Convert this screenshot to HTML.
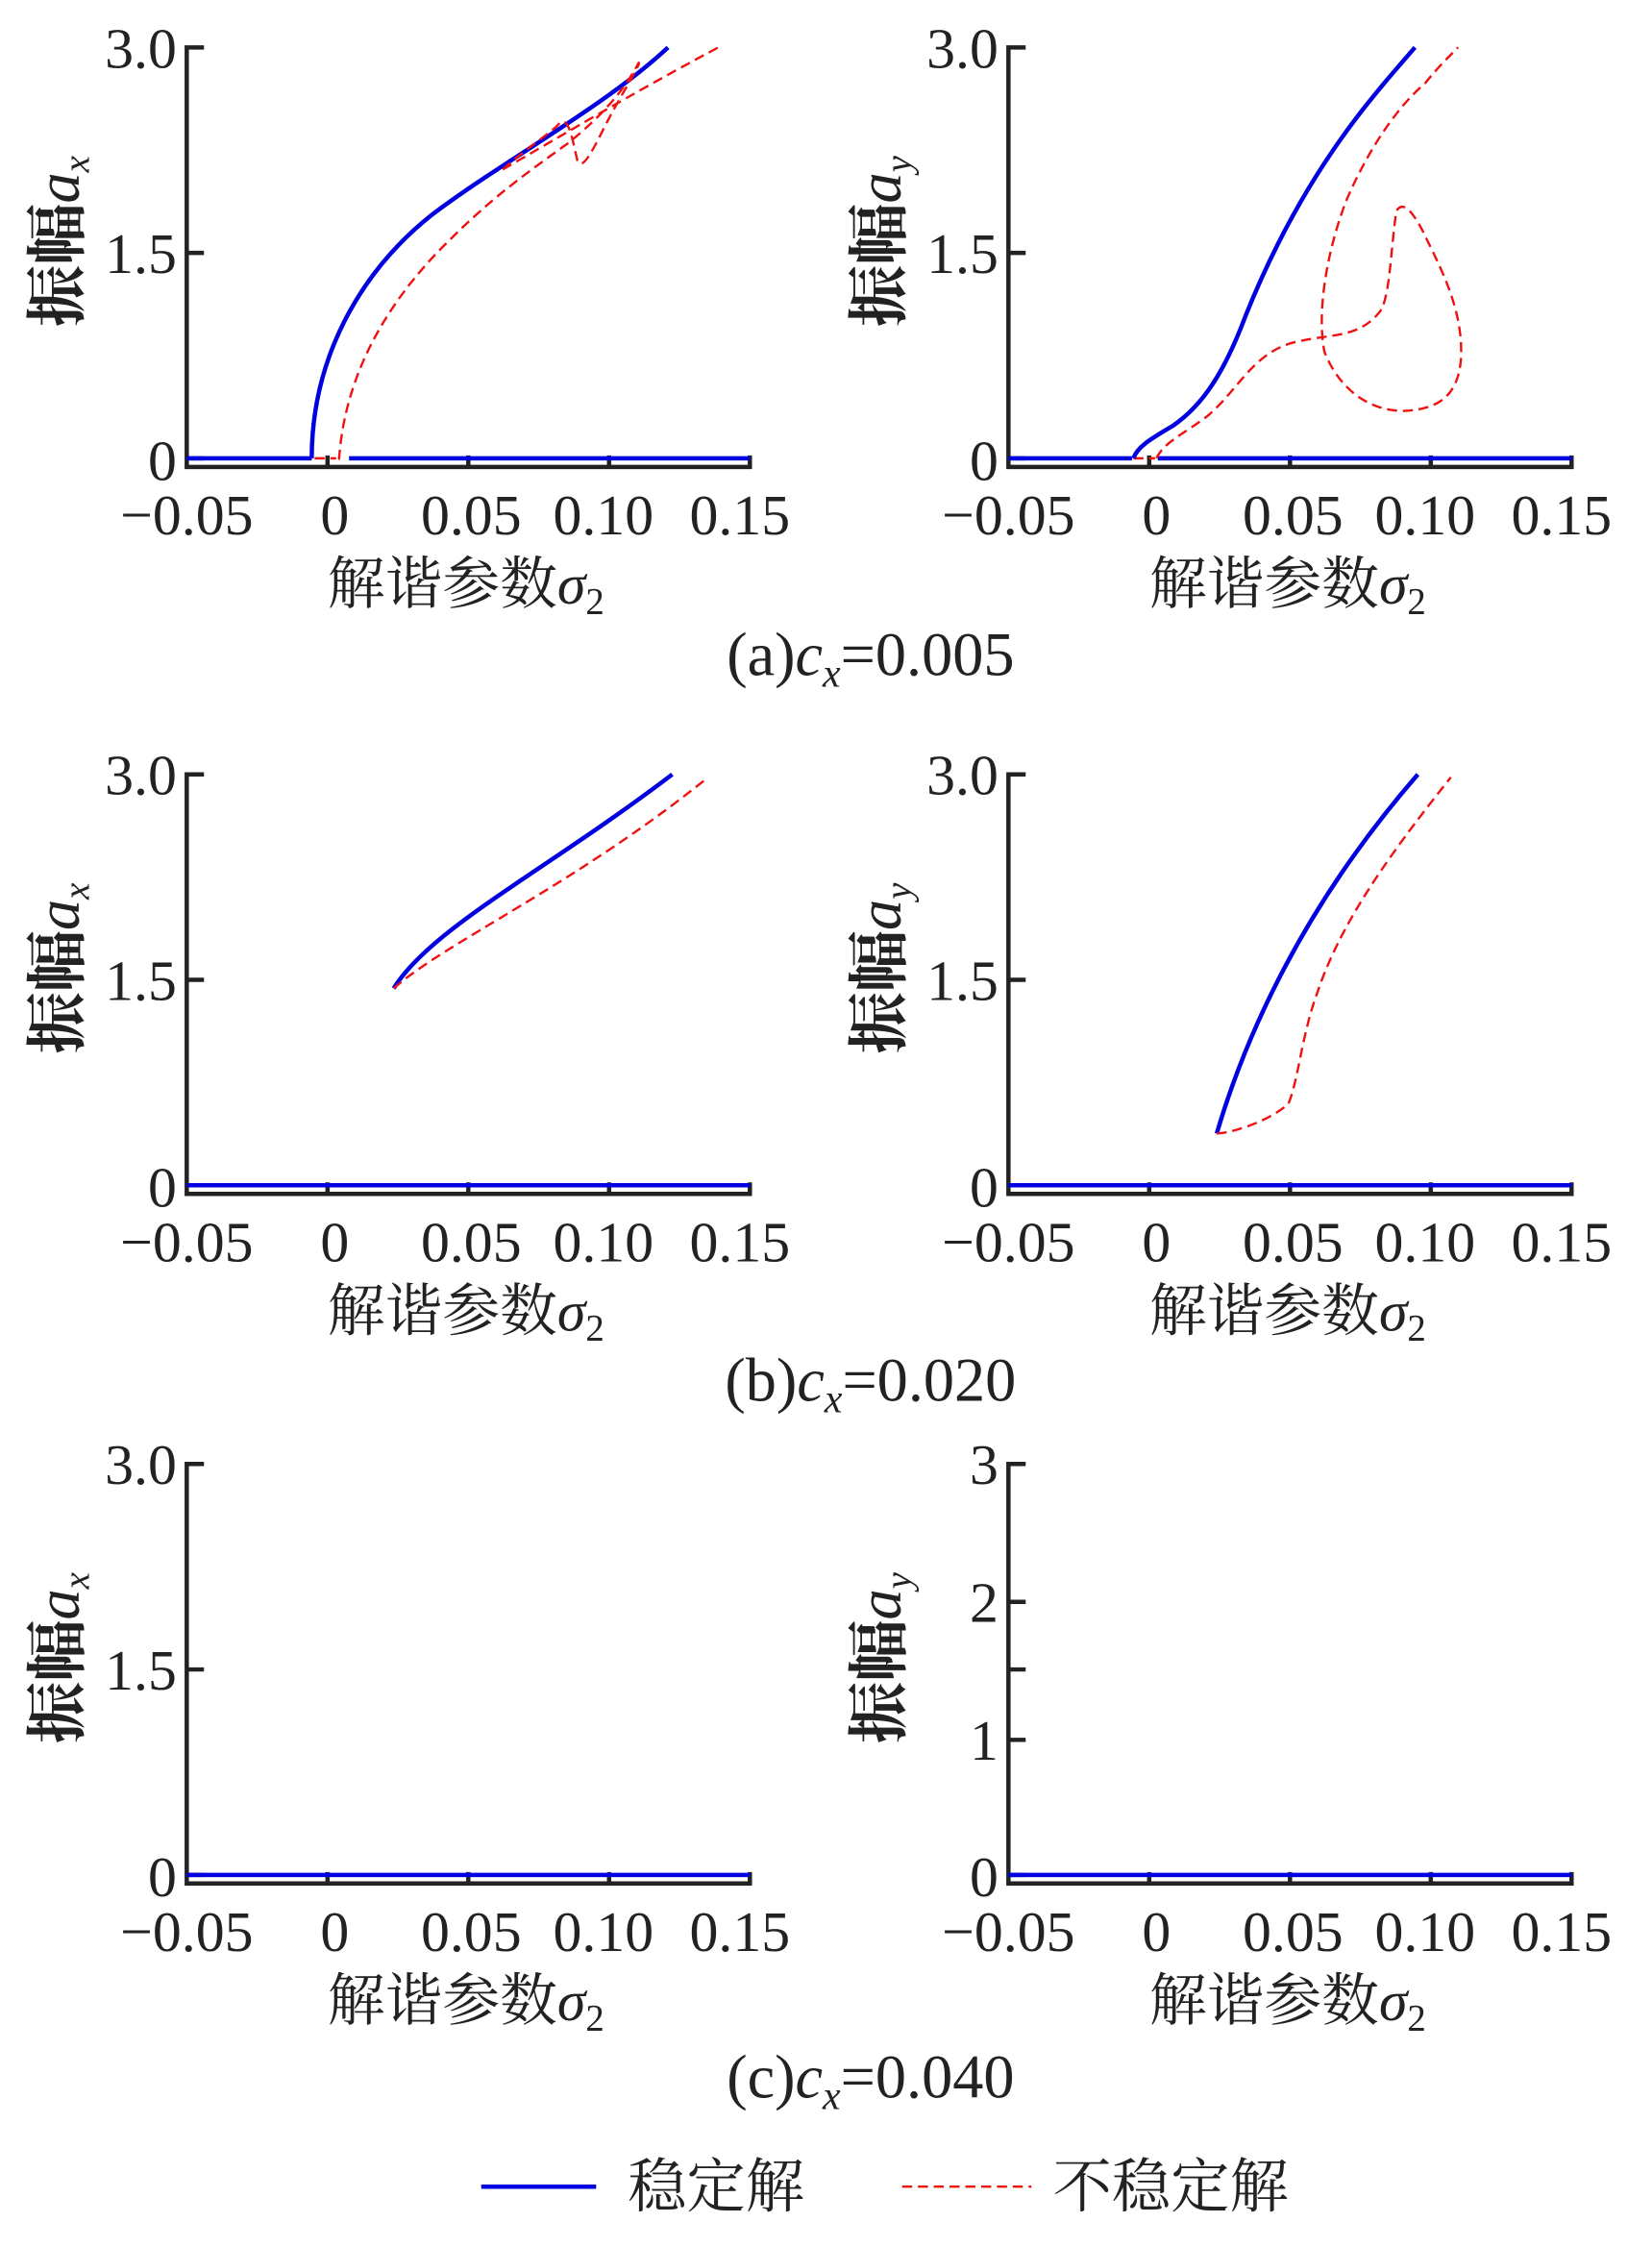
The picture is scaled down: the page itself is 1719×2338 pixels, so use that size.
<!DOCTYPE html>
<html><head><meta charset="utf-8"><style>
html,body{margin:0;padding:0;background:#fff}
svg{display:block}
text{font-family:"Liberation Serif","Noto Serif CJK SC",serif;fill:#222}
.t{font-size:40px}
.cn{font-family:"Liberation Serif","Noto Serif CJK SC",serif;font-size:40px}
.yl{font-family:"Liberation Serif","Noto Serif CJK SC",serif;font-size:43px;font-weight:bold}
.ax{stroke:#222;stroke-width:3;fill:none}
.b{stroke:#0000e0;stroke-width:3;fill:none}
.r{stroke:#f01010;stroke-width:1.6;fill:none;stroke-dasharray:7,4}
</style></head><body>
<svg width="1719" height="2338" viewBox="0 0 1150 1564" preserveAspectRatio="none" xmlns="http://www.w3.org/2000/svg">
<defs>
<g id="axL">
<path class="ax" d="M142,33 H130 V325 H522 V317 M130,176 H142 M130,319 H142 M228,325 V317 M326,325 V317 M424,325 V317"/>
<text class="t" x="130" y="372" text-anchor="middle">−0.05</text>
<text class="t" x="233" y="372" text-anchor="middle">0</text>
<text class="t" x="328" y="372" text-anchor="middle">0.05</text>
<text class="t" x="420" y="372" text-anchor="middle">0.10</text>
<text class="t" x="515" y="372" text-anchor="middle">0.15</text>
<text class="cn" x="228" y="420">解谐参数<tspan font-style="italic">σ</tspan><tspan font-size="26" dy="7">2</tspan></text>
</g>
</defs>

<!-- Row a left -->
<g>
<use href="#axL"/>
<text class="t" x="123" y="47" text-anchor="end">3.0</text>
<text class="t" x="123" y="190" text-anchor="end">1.5</text>
<text class="t" x="123" y="334" text-anchor="end">0</text>
<text class="yl" transform="translate(55,168) rotate(-90)" text-anchor="middle">振幅<tspan font-style="italic" font-weight="normal">a</tspan><tspan font-style="italic" font-weight="normal" font-size="26" dy="7">x</tspan></text>
<path class="b" d="M130,319 H217 M243,319 H522"/>
<path class="r" d="M219,319 H234"/>
<path class="b" d="M217,319 C217,250 250,190 300,150 C350,112 420,75 465,33"/>
<path class="r" d="M236,320 C240,260 270,210 310,170 C340,140 360,125 395,100 C420,80 435,62 445,43 M350,118 C390,95 440,65 500,33 M350,118 C370,100 385,92 390,85 C396,82 398,95 402,112 C405,118 410,110 420,90 C430,70 440,55 445,44"/>
</g>

<!-- Row a right -->
<g transform="translate(572,0)">
<use href="#axL"/>
<text class="t" x="123" y="47" text-anchor="end">3.0</text>
<text class="t" x="123" y="190" text-anchor="end">1.5</text>
<text class="t" x="123" y="334" text-anchor="end">0</text>
<text class="yl" transform="translate(55,168) rotate(-90)" text-anchor="middle">振幅<tspan font-style="italic" font-weight="normal">a</tspan><tspan font-style="italic" font-weight="normal" font-size="26" dy="7">y</tspan></text>
<path class="b" d="M130,319 H216 M234,319 H522"/>
<path class="r" d="M217,319 H232"/>
<path class="b" d="M217,319 C220,310 232,304 245,296 C265,282 280,260 295,220 C315,170 340,125 370,85 C385,65 400,48 413,33"/>
<path class="r" d="M233,319 C238,308 252,302 268,290 C290,272 300,245 330,238 C355,232 375,236 390,215 C396,200 396,175 400,147 C404,140 410,145 418,160 C430,185 447,215 445,250 C443,275 430,285 405,286 C380,286 360,270 350,245 C345,220 350,180 365,140 C380,105 400,75 420,58 C428,48 436,40 443,33"/>
</g>

<!-- Row b left -->
<g transform="translate(0,506)">
<use href="#axL"/>
<text class="t" x="123" y="47" text-anchor="end">3.0</text>
<text class="t" x="123" y="190" text-anchor="end">1.5</text>
<text class="t" x="123" y="334" text-anchor="end">0</text>
<text class="yl" transform="translate(55,168) rotate(-90)" text-anchor="middle">振幅<tspan font-style="italic" font-weight="normal">a</tspan><tspan font-style="italic" font-weight="normal" font-size="26" dy="7">x</tspan></text>
<path class="b" d="M130,319 H522"/>
<path class="b" d="M274,182 C300,140 380,100 468,33"/>
<path class="r" d="M274,182 C310,150 400,110 493,35"/>
</g>

<!-- Row b right -->
<g transform="translate(572,506)">
<use href="#axL"/>
<text class="t" x="123" y="47" text-anchor="end">3.0</text>
<text class="t" x="123" y="190" text-anchor="end">1.5</text>
<text class="t" x="123" y="334" text-anchor="end">0</text>
<text class="yl" transform="translate(55,168) rotate(-90)" text-anchor="middle">振幅<tspan font-style="italic" font-weight="normal">a</tspan><tspan font-style="italic" font-weight="normal" font-size="26" dy="7">y</tspan></text>
<path class="b" d="M130,319 H522"/>
<path class="b" d="M275,283 C295,215 335,125 415,33"/>
<path class="r" d="M275,283 C290,282 315,272 325,262 C332,245 334,215 345,185 C360,140 390,95 438,35"/>
</g>

<!-- Row c left -->
<g transform="translate(0,986)">
<use href="#axL"/>
<text class="t" x="123" y="47" text-anchor="end">3.0</text>
<text class="t" x="123" y="190" text-anchor="end">1.5</text>
<text class="t" x="123" y="334" text-anchor="end">0</text>
<text class="yl" transform="translate(55,168) rotate(-90)" text-anchor="middle">振幅<tspan font-style="italic" font-weight="normal">a</tspan><tspan font-style="italic" font-weight="normal" font-size="26" dy="7">x</tspan></text>
<path class="b" d="M130,319 H522"/>
</g>

<!-- Row c right -->
<g transform="translate(572,986)">
<use href="#axL"/>
<path class="ax" d="M130,129 H142 M130,225 H142"/>
<text class="t" x="123" y="47" text-anchor="end">3</text>
<text class="t" x="123" y="143" text-anchor="end">2</text>
<text class="t" x="123" y="239" text-anchor="end">1</text>
<text class="t" x="123" y="334" text-anchor="end">0</text>
<text class="yl" transform="translate(55,168) rotate(-90)" text-anchor="middle">振幅<tspan font-style="italic" font-weight="normal">a</tspan><tspan font-style="italic" font-weight="normal" font-size="26" dy="7">y</tspan></text>
<path class="b" d="M130,319 H522"/>
</g>

<!-- captions -->
<text x="606" y="470" text-anchor="middle" font-size="43">(a)<tspan font-style="italic">c</tspan><tspan font-style="italic" font-size="28" dy="8">x</tspan><tspan dy="-8">=0.005</tspan></text>
<text x="606" y="975" text-anchor="middle" font-size="43">(b)<tspan font-style="italic">c</tspan><tspan font-style="italic" font-size="28" dy="8">x</tspan><tspan dy="-8">=0.020</tspan></text>
<text x="606" y="1460" text-anchor="middle" font-size="43">(c)<tspan font-style="italic">c</tspan><tspan font-style="italic" font-size="28" dy="8">x</tspan><tspan dy="-8">=0.040</tspan></text>

<!-- legend -->
<path class="b" d="M335,1522 H415"/>
<text x="437" y="1536" font-size="41">稳定解</text>
<path class="r" d="M628,1522 H718"/>
<text x="733" y="1536" font-size="41">不稳定解</text>
</svg>
</body></html>
